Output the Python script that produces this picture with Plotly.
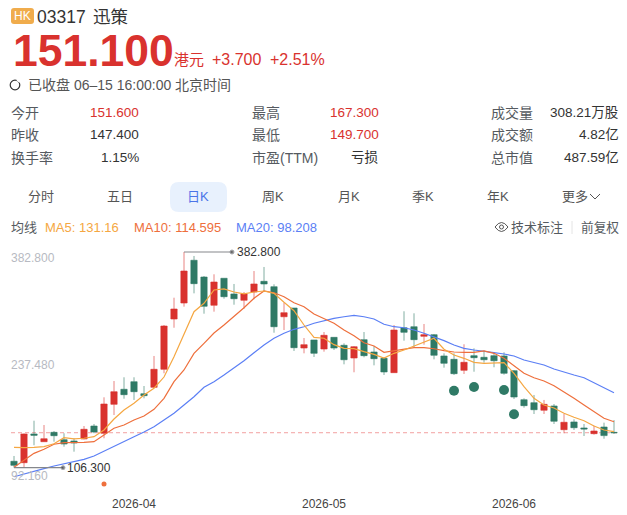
import plotly.graph_objects as go

# the page body keeps its 8px margin, so the figure is laid out 8px in from the window corner
W, H = 619, 507
PAGE_MARGIN = 8
FONT = "Liberation Sans, Noto Sans CJK SC, sans-serif"
RED = "#d9322e"
GREEN = "#2f7a66"
LABEL = "#555a60"

opens = [
    114.5, 112.7, 149.5, 139.6, 151.6, 142.2, 140.5, 143.1, 159.7, 150.4,
    187.5, 206.8, 216.5, 201.1, 209.3, 232.4, 296.9, 317.4, 372.2, 350.7,
    314.5, 349.1, 329.0, 320.9, 331.5, 345.2, 338.3, 299.8, 311.0, 259.7,
    270.0, 258.4, 273.4, 263.2, 246.9, 270.4, 254.6, 246.5, 228.1, 285.7,
    287.0, 274.7, 276.8, 249.5, 245.2, 231.1, 249.9, 247.8, 249.9, 249.5,
    230.6, 193.4, 189.6, 179.9, 185.4, 155.0, 164.9, 157.2, 149.9, 158.4, 151.6,
]
closes = [
    109.3, 149.5, 147.8, 143.4, 147.3, 136.6, 137.9, 155.5, 152.0, 187.9,
    203.7, 199.9, 203.7, 198.6, 232.4, 287.9, 309.7, 358.4, 342.2, 313.2,
    344.3, 325.5, 322.9, 329.0, 341.8, 341.8, 287.0, 305.0, 260.1, 264.0,
    252.9, 276.0, 259.7, 244.7, 261.4, 249.9, 246.0, 229.0, 282.8, 279.8,
    270.4, 276.8, 250.4, 240.1, 226.8, 241.4, 247.3, 244.7, 243.4, 227.3,
    196.9, 185.8, 180.6, 187.5, 165.8, 164.5, 157.5, 155.9, 153.3, 147.4, 151.1,
]
highs = [
    121.3, 150.1, 166.5, 161.0, 153.3, 150.4, 144.0, 159.7, 162.3, 196.5,
    217.4, 222.2, 222.2, 211.0, 249.5, 289.2, 324.2, 382.8, 377.7, 352.0,
    354.2, 349.1, 341.8, 331.5, 358.4, 363.6, 341.4, 317.8, 311.0, 272.5,
    270.0, 280.2, 273.4, 265.7, 262.3, 280.2, 262.3, 247.8, 289.2, 306.8,
    304.2, 290.5, 277.7, 252.9, 252.9, 264.5, 259.3, 256.3, 254.2, 254.2,
    231.5, 195.2, 199.5, 193.1, 187.9, 175.1, 168.3, 162.3, 160.1, 164.0, 167.3,
]
lows = [
    106.3, 106.8, 135.0, 139.6, 139.6, 133.2, 126.8, 142.7, 150.4, 144.0,
    173.8, 194.7, 193.1, 195.2, 208.4, 227.3, 285.7, 312.7, 329.8, 303.7,
    306.3, 322.9, 315.2, 310.1, 322.2, 331.5, 279.3, 282.8, 255.9, 252.9,
    248.2, 255.0, 257.2, 238.8, 228.6, 247.8, 237.5, 225.1, 228.1, 269.1,
    260.6, 264.0, 245.2, 234.5, 225.1, 226.4, 229.3, 240.9, 235.0, 225.5,
    194.3, 183.2, 175.1, 175.1, 162.3, 150.4, 154.6, 146.9, 148.6, 143.4, 149.7,
]
ma5 = [
    132.4, 131.9, 132.4, 133.2, 137.0, 144.7, 143.1, 144.0, 146.0, 154.6,
    168.7, 180.2, 188.8, 199.5, 208.1, 222.5, 248.6, 276.4, 306.3, 317.0,
    334.1, 335.4, 331.5, 329.0, 331.5, 332.8, 329.8, 318.3, 307.5, 289.2,
    273.4, 272.2, 264.0, 259.3, 258.8, 255.0, 251.6, 246.9, 252.9, 257.2,
    262.3, 266.5, 272.2, 258.1, 250.7, 246.5, 241.4, 240.1, 240.5, 240.9,
    227.3, 210.1, 195.2, 186.6, 182.8, 176.0, 170.9, 166.5, 159.7, 154.6, 152.4,
]
ma10 = [
    106.8, 116.1, 124.7, 129.9, 136.3, 138.3, 138.3, 138.8, 139.6, 148.2,
    156.8, 161.0, 167.4, 172.5, 181.1, 195.2, 216.5, 231.5, 252.9, 265.7,
    279.0, 289.2, 299.8, 311.4, 323.4, 332.8, 330.6, 325.5, 317.8, 312.7,
    303.3, 297.8, 291.4, 282.8, 275.5, 266.5, 262.3, 254.2, 255.9, 258.1,
    260.1, 260.1, 258.8, 256.3, 254.6, 254.2, 254.2, 255.9, 252.9, 246.5,
    236.6, 227.3, 221.6, 217.4, 211.4, 203.7, 195.2, 186.6, 178.1, 169.6, 165.2,
]
ma20 = [
    94.7, 98.2, 102.4, 105.0, 108.4, 111.0, 113.6, 117.0, 121.3, 127.7,
    133.2, 139.6, 146.0, 152.0, 158.8, 167.4, 176.0, 186.6, 197.3, 209.3,
    216.5, 225.1, 233.7, 243.4, 253.7, 263.6, 272.2, 278.6, 283.7, 287.0,
    291.4, 294.7, 297.8, 299.8, 301.6, 299.8, 296.9, 290.1, 287.0, 285.7,
    282.8, 278.6, 274.2, 269.1, 263.6, 259.3, 257.2, 255.0, 253.7, 252.0,
    249.5, 244.3, 240.9, 237.9, 232.8, 228.6, 225.1, 221.6, 215.2, 208.8, 202.4,
]
x_idx = list(range(len(closes)))

month_idx = [12, 31, 50]
month_labels = ["2026-04", "2026-05", "2026-06"]
axis_prices = [382.8, 237.48, 92.16]
axis_labels = ["382.800", "237.480", "92.160"]
signal_idx = [44, 46, 49, 50]
signal_prices = [205.0, 209.7, 205.9, 174.7]
flag_idx = [9]
flag_prices = [85.4]
last_close = 151.1

tabs = ["分时", "五日", "日K", "周K", "月K", "季K", "年K", "更多"]
table_left = [("今开", "151.600", RED), ("昨收", "147.400", "#333"), ("换手率", "1.15%", "#333")]
table_mid = [("最高", "167.300", RED), ("最低", "149.700", RED), ("市盈(TTM)", "亏损", "#333")]
table_right = [("成交量", "308.21万股", "#333"), ("成交额", "4.82亿", "#333"), ("总市值", "487.59亿", "#333")]


def px(x):
    return (x - PAGE_MARGIN) / W


def py(y):
    return 1 - (y - PAGE_MARGIN) / H


def rounded(x0, y0, x1, y1, r):
    a, b, c, d = px(x0), py(y0), px(x1), py(y1)
    rx, ry = r / W, r / H
    return (
        f"M{a + rx},{b} L{c - rx},{b} Q{c},{b} {c},{b - ry} L{c},{d + ry} Q{c},{d} {c - rx},{d} "
        f"L{a + rx},{d} Q{a},{d} {a},{d + ry} L{a},{b - ry} Q{a},{b} {a + rx},{b} Z"
    )


annotations = []
shapes = []


def text(x, y, s, size=14, color="#333", anchor="left", bold=False):
    annotations.append(dict(
        x=px(x), y=py(y), xref="paper", yref="paper", text=f"<b>{s}</b>" if bold else s,
        showarrow=False, xanchor=anchor, yanchor="middle", borderpad=0, borderwidth=0,
        font=dict(family=FONT, size=size, color=color),
    ))


def paper_shape(**kw):
    shapes.append(dict(xref="paper", yref="paper", **kw))


def circle(cx, cy, r, line, fill="rgba(0,0,0,0)", width=1.2):
    paper_shape(type="circle", x0=px(cx - r), x1=px(cx + r), y0=py(cy + r), y1=py(cy - r),
                line=dict(color=line, width=width), fillcolor=fill)


# header
paper_shape(type="path", path=rounded(11, 8, 34, 24, 3), fillcolor="#f0ac4c", line=dict(width=0))
text(22.5, 16, "HK", 12, "#fff", "center")
text(37, 17, "03317", 17.5, "#333")
text(93, 17, "迅策", 17.5, "#333")
text(12.5, 51, "151.100", 44.5, RED, bold=True)
text(174, 60, "港元", 15, RED)
text(212, 60, "+3.700", 16, RED)
text(270, 60, "+2.51%", 16, RED)
circle(15, 85, 4.8, "#333")
paper_shape(type="line", x0=px(17), x1=px(20), y0=py(80), y1=py(82), line=dict(color="#fff", width=2))
text(28, 85, "已收盘 06–15 16:00:00 北京时间", 14, "#555")

# quote table
for rows, lx, vx in [(table_left, 11, 139), (table_mid, 252, 379), (table_right, 491, 619)]:
    for (label, value, color), y in zip(rows, [113, 135, 158]):
        text(lx, y, label, 14, LABEL)
        text(vx, y, value, 13.5, color, "right")

# period tabs
paper_shape(type="path", path=rounded(170, 182, 227, 212, 9), fillcolor="#e8f1fd", line=dict(width=0))
for name, x in zip(tabs, [41, 120, 198, 273, 349, 423, 498, 575]):
    text(x, 196, name, 13, "#4a74e8" if name == "日K" else "#555", "center")
paper_shape(type="path", path=f"M{px(590)},{py(194)} L{px(595)},{py(199)} L{px(600)},{py(194)}",
            line=dict(color="#555", width=1))

# ma legend
text(11, 227, "均线", 13, LABEL)
text(45, 227, "MA5: 131.16", 13, "#f5a742")
text(134, 227, "MA10: 114.595", 13, "#ee6f3c")
text(236, 227, "MA20: 98.208", 13, "#5b7ff5")
paper_shape(type="path",
            path=f"M{px(495)},{py(227)} Q{px(501.5)},{py(218)} {px(508)},{py(227)} Q{px(501.5)},{py(236)} {px(495)},{py(227)} Z",
            line=dict(color="#555", width=1))
circle(501.5, 227, 2, "#555", width=1)
text(511, 227, "技术标注", 13, LABEL)
paper_shape(type="line", x0=px(572), x1=px(572), y0=py(221), y1=py(234), line=dict(color="#e4e4e4", width=1))
text(581, 227, "前复权", 12.7, LABEL)

# prev close guide
shapes.append(dict(type="line", xref="paper", yref="y", x0=px(11), x1=px(619), y0=last_close, y1=last_close,
                   layer="below", line=dict(color="rgba(238,130,130,0.75)", width=1, dash="4px,3px")))

# price labels sit inside the plot, the outer two are nudged into it
for price, label, shift in zip(axis_prices, axis_labels, [-6.5, 0, 3]):
    annotations.append(dict(
        x=px(11), y=price, xref="paper", yref="y", text=label, showarrow=False, xanchor="left",
        yanchor="middle", yshift=shift, borderwidth=0, borderpad=0,
        font=dict(family=FONT, size=12, color="#b7bac2"),
    ))
annotations.append(dict(x=21.8, y=382.8, text="382.800", showarrow=False, xanchor="left", xshift=4,
                        borderwidth=0, font=dict(family=FONT, size=12, color="#333")))
annotations.append(dict(x=4.9, y=106.3, text="106.300", showarrow=False, xanchor="left", xshift=3,
                        borderwidth=0, font=dict(family=FONT, size=12, color="#333")))

fig = go.Figure()
fig.add_trace(go.Candlestick(
    x=x_idx, open=opens, high=highs, low=lows, close=closes, whiskerwidth=0,
    increasing=dict(fillcolor=RED, line=dict(color="rgba(217,50,46,0.6)", width=1)),
    decreasing=dict(fillcolor=GREEN, line=dict(color="rgba(47,122,102,0.6)", width=1)),
    hoverinfo="skip",
))
for values, color in [(ma20, "#5b7ff5"), (ma10, "#ee6f3c"), (ma5, "#f5a742")]:
    fig.add_trace(go.Scatter(x=x_idx, y=values, mode="lines", line=dict(color=color, width=1.2), hoverinfo="skip"))
fig.add_trace(go.Scatter(x=signal_idx, y=signal_prices, mode="markers", marker=dict(color=GREEN, size=10), hoverinfo="skip"))
fig.add_trace(go.Scatter(x=flag_idx, y=flag_prices, mode="markers", marker=dict(color="#ee6f3c", size=5), hoverinfo="skip"))
for xs, ys in [([17, 21.8], [382.8, 382.8]), ([0, 4.9], [106.3, 106.3])]:
    fig.add_trace(go.Scatter(x=xs, y=ys, mode="lines+markers", line=dict(color="#85878c", width=1.2),
                             marker=dict(color="#444", size=[0, 4]), hoverinfo="skip"))

fig.update_layout(
    width=W, height=H, margin=dict(l=0, r=0, t=0, b=0), showlegend=False,
    paper_bgcolor="#fff", plot_bgcolor="rgba(0,0,0,0)", boxgap=0.1,
    annotations=annotations, shapes=shapes,
    xaxis=dict(domain=[px(9), px(619)], range=[-0.5, 60.5], showgrid=False, zeroline=False, showline=False,
               rangeslider=dict(visible=False), tickmode="array", tickvals=month_idx, ticktext=month_labels,
               ticks="", ticklabelstandoff=5, tickfont=dict(family=FONT, size=12, color="#444")),
    yaxis=dict(domain=[py(490), py(245)], range=[77.67, 391.77], showgrid=False, zeroline=False,
               showline=False, showticklabels=False),
)

fig.write_html("out.html")
